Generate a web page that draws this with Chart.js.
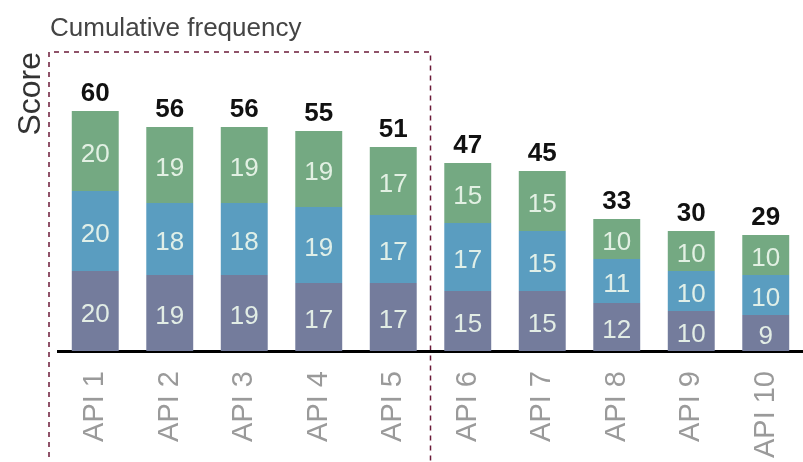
<!DOCTYPE html>
<html>
<head>
<meta charset="utf-8">
<script src="https://cdn.jsdelivr.net/npm/chart.js@4.4.1/dist/chart.umd.min.js"></script>
<style>
  html, body { margin: 0; padding: 0; background: #fff; }
  #wrap { width: 803px; height: 462px; position: relative; }
</style>
</head>
<body>
<div id="wrap"><canvas id="chart" width="803" height="462"></canvas></div>
<script>
// Datos del gráfico
const categorias = ['API 1', 'API 2', 'API 3', 'API 4', 'API 5', 'API 6', 'API 7', 'API 8', 'API 9', 'API 10'];
const serieBaja = [20, 19, 19, 17, 17, 15, 15, 12, 10, 9];
const serieMedia = [20, 18, 18, 19, 17, 17, 15, 11, 10, 10];
const serieAlta = [20, 19, 19, 19, 17, 15, 15, 10, 10, 10];
const totales = [60, 56, 56, 55, 51, 47, 45, 33, 30, 29];

const fuente = '"Liberation Sans", Arial, Helvetica, sans-serif';

// Textos, caja punteada y etiquetas de valores
const pluginEtiquetas = {
    id: 'etiquetas',
    beforeDraw(chart) {
        const { ctx, scales: { x }, chartArea } = chart;
        // caja punteada alrededor de las 5 primeras
        const izq = chartArea.left - 9;
        const der = (x.getPixelForValue(4) + x.getPixelForValue(5)) / 2;
        const arriba = chartArea.top + 1;
        ctx.save();
        ctx.strokeStyle = '#6b1a38';
        ctx.lineWidth = 1.5;
        ctx.setLineDash([5, 5]);
        ctx.beginPath();
        ctx.moveTo(izq, chart.height + 5);
        ctx.lineTo(izq, arriba);
        ctx.lineTo(der, arriba);
        ctx.lineTo(der, chart.height + 5);
        ctx.stroke();
        ctx.restore();
    },
    afterDatasetsDraw(chart) {
        const { ctx } = chart;
        ctx.save();
        // valores internos
        ctx.font = '26px ' + fuente;
        ctx.fillStyle = 'rgba(235,246,235,0.92)';
        ctx.textAlign = 'center';
        ctx.textBaseline = 'middle';
        chart.data.datasets.forEach((ds, i) => {
            chart.getDatasetMeta(i).data.forEach((bar, j) => {
                ctx.fillText(String(ds.data[j]), bar.x, (bar.y + bar.base) / 2 + 4);
            });
        });
        // totales arriba
        const ultimo = chart.getDatasetMeta(chart.data.datasets.length - 1);
        ctx.font = 'bold 26px ' + fuente;
        ctx.fillStyle = '#111';
        ctx.textBaseline = 'alphabetic';
        ultimo.data.forEach((bar, j) => {
            ctx.fillText(String(totales[j]), bar.x, bar.y - 10);
        });
        // título
        ctx.font = '26px ' + fuente;
        ctx.fillStyle = '#444';
        ctx.textAlign = 'left';
        ctx.fillText('Cumulative frequency', 50, 36);
        // eje Y
        ctx.translate(40, 52);
        ctx.rotate(-Math.PI / 2);
        ctx.font = '32px ' + fuente;
        ctx.fillStyle = '#333';
        ctx.textAlign = 'right';
        ctx.fillText('Score', 0, 0);
        ctx.restore();
    }
};

const crearSerie = (datos, color) => ({
    data: datos,
    backgroundColor: color,
    borderWidth: 0,
    barPercentage: 0.63,
    categoryPercentage: 1.0
});

new Chart(document.getElementById('chart').getContext('2d'), {
    type: 'bar',
    data: {
        labels: categorias,
        datasets: [
            crearSerie(serieBaja, '#747c9c'),
            crearSerie(serieMedia, '#5a9dc0'),
            crearSerie(serieAlta, '#74a982')
        ]
    },
    options: {
        responsive: false,
        animation: false,
        layout: { padding: { left: 58, right: -3, top: 51, bottom: 0 } },
        plugins: { legend: { display: false }, tooltip: { enabled: false } },
        scales: {
            x: {
                stacked: true,
                grid: { display: false },
                border: { display: true, color: '#000', width: 3 },
                ticks: {
                    color: '#9a9a9a',
                    font: { family: fuente, size: 29 },
                    minRotation: 90,
                    maxRotation: 90,
                    padding: 12
                },
                afterFit(s) {
                    s.height = 111;
                    s.paddingLeft = 0;
                    s.paddingRight = 0;
                }
            },
            y: {
                display: false,
                stacked: true,
                min: 0,
                max: 75
            }
        }
    },
    plugins: [pluginEtiquetas]
});
</script>
</body>
</html>
